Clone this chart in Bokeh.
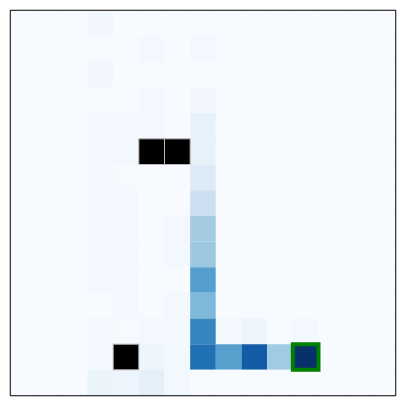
from bokeh.plotting import figure
from bokeh.models import Range1d, ColumnDataSource
from bokeh.transform import linear_cmap
from bokeh.palettes import Blues256
from bokeh.embed import file_html
from bokeh.resources import INLINE

N = 15
# Cell values per row (top to bottom), columns left to right
row_00 = [0, 0, 0, 0.035, 0, 0, 0, 0, 0, 0, 0, 0, 0, 0, 0]
row_01 = [0, 0, 0, 0, 0, 0.025, 0, 0.025, 0, 0, 0, 0, 0, 0, 0]
row_02 = [0, 0, 0, 0.035, 0, 0, 0, 0, 0, 0, 0, 0, 0, 0, 0]
row_03 = [0, 0, 0, 0, 0, 0.025, 0, 0.035, 0, 0, 0, 0, 0, 0, 0]
row_04 = [0, 0, 0, 0.025, 0.025, 0.025, 0, 0.08, 0, 0, 0, 0, 0, 0, 0]
row_05 = [0, 0, 0, 0.025, 0.025, 0, 0, 0.08, 0, 0, 0, 0, 0, 0, 0]
row_06 = [0, 0, 0, 0.025, 0.005, 0, 0, 0.13, 0, 0, 0, 0, 0, 0, 0]
row_07 = [0, 0, 0, 0.025, 0.025, 0, 0, 0.22, 0, 0, 0, 0, 0, 0, 0]
row_08 = [0, 0, 0, 0.025, 0.025, 0, 0.025, 0.36, 0, 0, 0, 0, 0, 0, 0]
row_09 = [0, 0, 0, 0.025, 0.025, 0, 0.025, 0.38, 0, 0, 0, 0, 0, 0, 0]
row_10 = [0, 0, 0, 0.025, 0.025, 0, 0, 0.57, 0, 0, 0, 0, 0, 0, 0]
row_11 = [0, 0, 0, 0, 0.025, 0, 0.025, 0.45, 0, 0, 0, 0, 0, 0, 0]
row_12 = [0, 0, 0, 0.025, 0.005, 0.02, 0.025, 0.67, 0.02, 0.05, 0, 0.02, 0, 0, 0]
row_13 = [0, 0, 0, 0.025, 0, 0.05, 0.025, 0.75, 0.56, 0.83, 0.37, 1.0, 0, 0, 0]
row_14 = [0, 0, 0, 0.06, 0.05, 0.09, 0.025, 0, 0, 0, 0, 0, 0, 0, 0]

# Wall cells (drawn black)
wall_cols = [5, 6, 4]
wall_rows = [5, 5, 13]

# Highlighted goal cell
goal_col = [11]
goal_row = [13]

rows = [row_00, row_01, row_02, row_03, row_04, row_05, row_06, row_07,
        row_08, row_09, row_10, row_11, row_12, row_13, row_14]

xs, ys, vs = [], [], []
for r, row in enumerate(rows):
    for c, v in enumerate(row):
        xs.append(c + 0.5)
        ys.append(r + 0.5)
        vs.append(v)

src = ColumnDataSource(dict(x=xs, y=ys, v=vs))

p = figure(width=405, height=405, output_backend="svg", toolbar_location=None,
           x_range=Range1d(0, N), y_range=Range1d(N, 0),
           x_axis_type=None, y_axis_type=None,
           min_border_left=10, min_border_right=10, min_border_top=10, min_border_bottom=10)
p.grid.visible = False
p.outline_line_color = "black"
p.outline_line_width = 1.5
p.background_fill_color = "#f7fbff"

p.rect(x="x", y="y", width=1, height=1, source=src,
       fill_color=linear_cmap("v", Blues256[::-1], 0, 1), line_color=None)

p.rect(x=[c + 0.5 for c in wall_cols], y=[r + 0.5 for r in wall_rows], width=1, height=1,
       fill_color="black", line_color="#bbbbbb", line_width=1)

p.rect(x=[c + 0.5 for c in goal_col], y=[r + 0.5 for r in goal_row], width=1, height=1,
       fill_color=None, line_color="green", line_width=4, line_join="miter")

open("out.html", "w").write(file_html(p, INLINE))
